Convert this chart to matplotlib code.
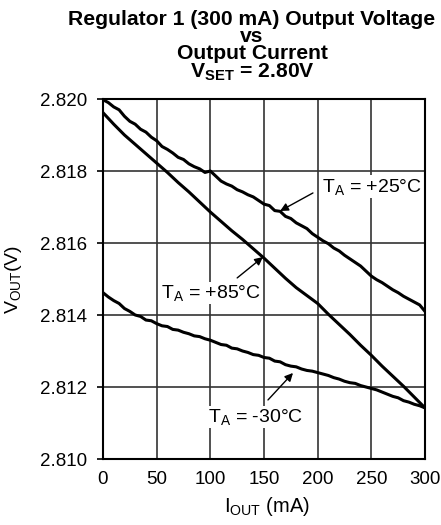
import matplotlib
matplotlib.use('Agg')
import matplotlib.pyplot as plt

plt.rcParams['font.family'] = ['Liberation Sans', 'DejaVu Sans']
plt.rcParams['mathtext.fontset'] = 'custom'
plt.rcParams['mathtext.rm'] = 'Liberation Sans'
plt.rcParams['mathtext.bf'] = 'Liberation Sans:bold'
plt.rcParams['mathtext.it'] = 'Liberation Sans:italic'

# output current (mA)
i_fine = list(range(0, 301, 5))
i_coarse = list(range(0, 301, 10))

# V_OUT at TA = +25C (5 mA steps)
v_25 = [2.81998, 2.81990, 2.81978, 2.81970, 2.81952, 2.81938, 2.81930, 2.81916,
        2.81908, 2.81894, 2.81884, 2.81868, 2.81860, 2.81850, 2.81838, 2.81832,
        2.81820, 2.81812, 2.81806, 2.81796, 2.81800, 2.81786, 2.81772, 2.81764,
        2.81758, 2.81748, 2.81742, 2.81734, 2.81728, 2.81718, 2.81708, 2.81704,
        2.81690, 2.81688, 2.81674, 2.81668, 2.81656, 2.81648, 2.81640, 2.81626,
        2.81616, 2.81606, 2.81598, 2.81586, 2.81578, 2.81566, 2.81556, 2.81546,
        2.81536, 2.81522, 2.81508, 2.81498, 2.81490, 2.81480, 2.81470, 2.81462,
        2.81452, 2.81444, 2.81436, 2.81428, 2.81410]

# V_OUT at TA = +85C (10 mA steps)
v_85 = [2.81962, 2.81930, 2.81900, 2.81874, 2.81848, 2.81822, 2.81796, 2.81768,
        2.81742, 2.81714, 2.81686, 2.81660, 2.81634, 2.81610, 2.81584, 2.81558,
        2.81530, 2.81502, 2.81476, 2.81454, 2.81432, 2.81402, 2.81374, 2.81346,
        2.81316, 2.81288, 2.81258, 2.81230, 2.81202, 2.81172, 2.81142]

# V_OUT at TA = -30C (5 mA steps)
v_m30 = [2.81462, 2.81450, 2.81440, 2.81432, 2.81418, 2.81410, 2.81400, 2.81396,
         2.81386, 2.81384, 2.81376, 2.81370, 2.81368, 2.81360, 2.81358, 2.81352,
         2.81348, 2.81342, 2.81340, 2.81334, 2.81330, 2.81324, 2.81318, 2.81316,
         2.81308, 2.81306, 2.81300, 2.81296, 2.81290, 2.81288, 2.81282, 2.81280,
         2.81272, 2.81270, 2.81262, 2.81258, 2.81256, 2.81250, 2.81246, 2.81244,
         2.81240, 2.81236, 2.81232, 2.81226, 2.81222, 2.81216, 2.81212, 2.81210,
         2.81204, 2.81200, 2.81196, 2.81192, 2.81186, 2.81180, 2.81174, 2.81170,
         2.81162, 2.81158, 2.81152, 2.81148, 2.81142]

x_ticks = [0, 50, 100, 150, 200, 250, 300]
y_ticks = [2.810, 2.812, 2.814, 2.816, 2.818, 2.820]

fig = plt.figure(figsize=(4.41, 5.25), dpi=100)
ax = fig.add_axes([103/441, 1-459/525, 322/441, 360/525])

ax.plot(i_fine, v_25, color='black', lw=2.2, zorder=3)
ax.plot(i_coarse, v_85, color='black', lw=2.2, zorder=3)
ax.plot(i_fine, v_m30, color='black', lw=2.2, zorder=3)

ax.set_xlim(0, 300)
ax.set_ylim(2.810, 2.820)
ax.set_xticks(x_ticks)
ax.set_yticks(y_ticks)
ax.set_yticklabels(['%.3f' % v for v in y_ticks])
ax.grid(True, color='#333333', lw=1.2)
ax.set_axisbelow(True)
for s in ax.spines.values():
    s.set_linewidth(1.5)
ax.tick_params(axis='x', length=0, pad=9, labelsize=13.5)
ax.tick_params(axis='y', length=4.3, width=1.2, pad=7, labelsize=13.5)

ax.set_xlabel(r'I$_{\rm OUT}$ (mA)', fontsize=14.5)
ax.xaxis.set_label_coords(0.51, -0.1)
ax.set_ylabel(r'V$_{\rm OUT}$(V)', fontsize=14)
ax.yaxis.set_label_coords(-0.245, 0.5)

box = dict(facecolor='white', edgecolor='none', pad=1)
arrow = dict(arrowstyle='-|>', color='black', lw=1, mutation_scale=12, shrinkA=0, shrinkB=0)
ax.annotate('', xy=(165, 2.81689), xytext=(195.6, 2.81739), arrowprops=arrow, zorder=4)
ax.text(204, 2.81756, r'T$_{\rm A}$ = +25°C', fontsize=14, ha='left', va='center', bbox=box, zorder=4)
ax.annotate('', xy=(149, 2.81561), xytext=(125, 2.81503), arrowprops=arrow, zorder=4)
ax.text(101, 2.81461, r'T$_{\rm A}$ = +85°C', fontsize=14, ha='center', va='center', bbox=box, zorder=4)
ax.annotate('', xy=(177, 2.81239), xytext=(153.7, 2.81164), arrowprops=arrow, zorder=4)
ax.text(142.5, 2.81117, r'T$_{\rm A}$ = -30°C', fontsize=14, ha='center', va='center', bbox=box, zorder=4)

fig.text(252/441, 1-10/525,
         'Regulator 1 (300 mA) Output Voltage\nvs\nOutput Current\n' + r'$\mathbf{V_{SET}}$ = 2.80V',
         ha='center', va='top', fontsize=15.2, fontweight='bold', linespacing=0.88)

fig.savefig('out.png', dpi=100)
